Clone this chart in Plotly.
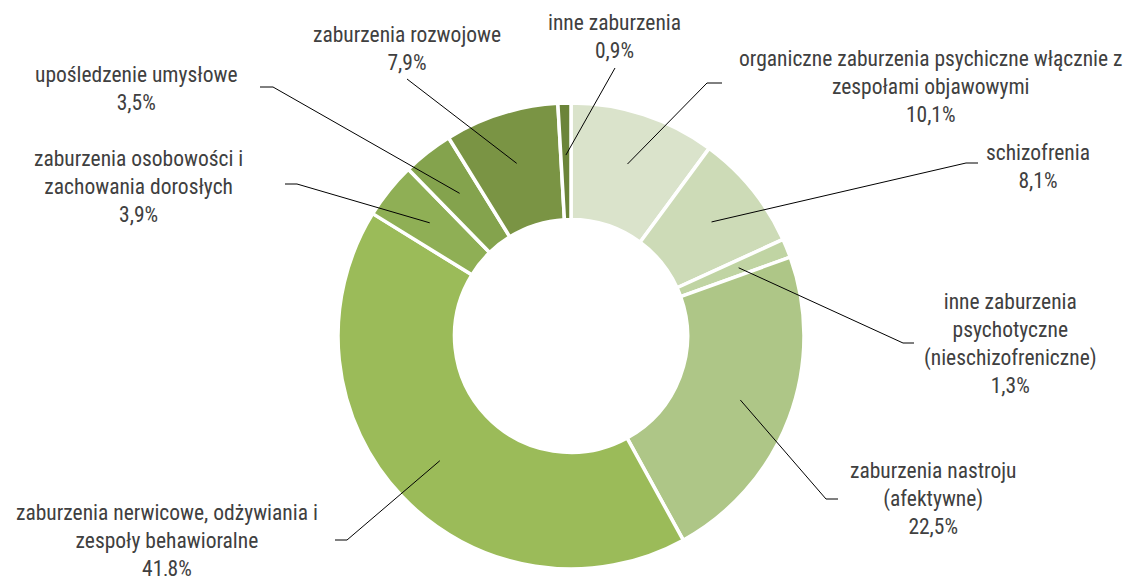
import math
import plotly.graph_objects as go

# ---- data ----
categories = [
    "organiczne zaburzenia psychiczne włącznie z zespołami objawowymi",
    "schizofrenia",
    "inne zaburzenia psychotyczne (nieschizofreniczne)",
    "zaburzenia nastroju (afektywne)",
    "zaburzenia nerwicowe, odżywiania i zespoły behawioralne",
    "zaburzenia osobowości i zachowania dorosłych",
    "upośledzenie umysłowe",
    "zaburzenia rozwojowe",
    "inne zaburzenia",
]
label_lines = [
    ["organiczne zaburzenia psychiczne włącznie z", "zespołami objawowymi"],
    ["schizofrenia"],
    ["inne zaburzenia", "psychotyczne", "(nieschizofreniczne)"],
    ["zaburzenia nastroju", "(afektywne)"],
    ["zaburzenia nerwicowe, odżywiania i", "zespoły behawioralne"],
    ["zaburzenia osobowości i", "zachowania dorosłych"],
    ["upośledzenie umysłowe"],
    ["zaburzenia rozwojowe"],
    ["inne zaburzenia"],
]
values = [10.1, 8.1, 1.3, 22.5, 41.8, 3.9, 3.5, 7.9, 0.9]

# ---- style / layout ----
colors = ["#DAE3CB", "#CDDBB7", "#C0D4A3", "#AEC687", "#9BBB59",
          "#8FAF55", "#84A34D", "#7A9444", "#6B8439"]
W, H = 1132, 576
CX, CY, R = 571, 336, 233
R_LEAD = 181
# text block centers (px) and leader elbow / end points (px)
text_pos = [(931, 86), (1038, 166), (1010, 343), (933, 498), (167, 540),
            (138, 186), (136, 89), (407, 48), (614, 36)]
elbows = [(707, 83), (966, 163), (903, 343), (826, 499), (347, 540),
          (297, 184), (273, 87), (407, 79), (615, 68)]
ends = [(722, 83), (978, 163), (914, 343), (838, 499), (335, 540),
        (285, 184), (260, 87), (407, 79), (615, 68)]

FONT = "Roboto Condensed, Liberation Sans Narrow, Arial Narrow, sans-serif"
TXT = "#404040"


def px(x):
    return x / W


def py(y):
    return 1 - y / H


fig = go.Figure()
fig.add_trace(go.Pie(
    labels=categories,
    values=values,
    sort=False,
    direction="clockwise",
    rotation=0,
    hole=0.5,
    marker=dict(colors=colors, line=dict(color="white", width=3.5)),
    textinfo="none",
    showlegend=False,
    domain=dict(x=[px(CX - R), px(CX + R)], y=[py(CY + R), py(CY - R)]),
))

total = sum(values)
cum = 0.0
shapes = []
annotations = []
for i, v in enumerate(values):
    mid = (cum + v / 2) / total * 2 * math.pi
    cum += v
    sx = CX + R_LEAD * math.sin(mid)
    sy = CY - R_LEAD * math.cos(mid)
    ex, ey = elbows[i]
    tx, ty = ends[i]
    path = f"M {px(sx)},{py(sy)} L {px(ex)},{py(ey)} L {px(tx)},{py(ty)}"
    shapes.append(dict(type="path", xref="paper", yref="paper", path=path,
                       line=dict(color="black", width=1)))
    pct = f"{v:.1f}".replace(".", ",") + "%"
    text = "<br>".join(label_lines[i] + [pct])
    cx, cy = text_pos[i]
    annotations.append(dict(x=px(cx), y=py(cy), xref="paper", yref="paper",
                            text=text, showarrow=False, xanchor="center",
                            yanchor="middle", align="center",
                            font=dict(family=FONT, size=21.5, color=TXT)))

fig.update_layout(
    width=W, height=H,
    margin=dict(l=0, r=0, t=0, b=0),
    paper_bgcolor="white",
    plot_bgcolor="white",
    shapes=shapes,
    annotations=annotations,
)
fig.write_html("out.html", config={"displayModeBar": False},
               post_script="document.body.style.margin='0';")
